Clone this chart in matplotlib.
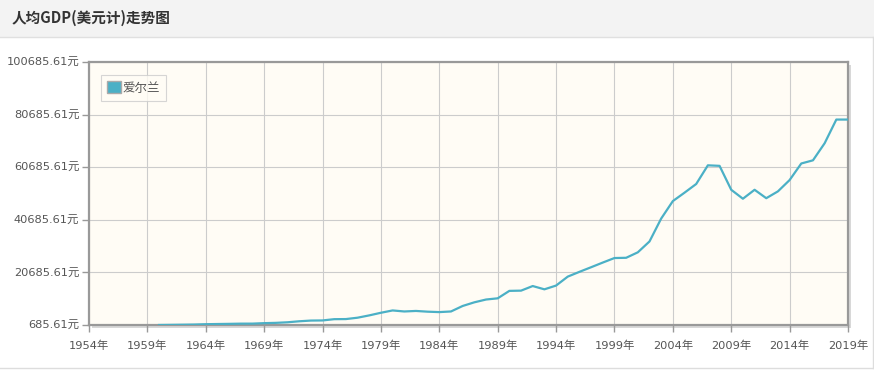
import matplotlib.pyplot as plt
from matplotlib.patches import Rectangle, Patch

plt.rcParams['font.family'] = ['DejaVu Sans', 'Noto Sans CJK SC']

# --- data ---
years = list(range(1960, 2020))
gdp_pc = [
    686, 740, 800, 860, 990, 1060, 1120, 1200, 1210, 1390,
    1500, 1720, 2100, 2370, 2420, 2900, 2940, 3460, 4340, 5340,
    6220, 5830, 6030, 5750, 5590, 5830, 7920, 9310, 10370, 10830,
    13660, 13750, 15500, 14250, 15680, 19080, 20900, 22650, 24430, 26150,
    26240, 28320, 32450, 41150, 47800, 51000, 54300, 61400, 61200, 52100,
    48700, 52100, 48900, 51500, 55800, 62100, 63300, 69800, 78800, 78800,
]
series_name = "爱尔兰"
title = "人均GDP(美元计)走势图"
y_ticks = [685.61 + 20000 * i for i in range(6)]
x_ticks = list(range(1954, 2020, 5))

W, H = 874, 376
fig = plt.figure(figsize=(W / 100, H / 100), dpi=100)
fig.patch.set_facecolor('white')

# header strip + panel frame
fig.add_artist(Rectangle((0, 1 - 37 / H), 1, 37 / H, transform=fig.transFigure,
                         facecolor='#f3f3f3', edgecolor='none', zorder=0))
fig.add_artist(plt.Line2D([0, 1], [1 - 37 / H] * 2, transform=fig.transFigure,
                          color='#e0e0e0', lw=1))
fig.add_artist(plt.Line2D([872.5 / W] * 2, [(376 - 368) / H, 1 - 37 / H],
                          transform=fig.transFigure, color='#dddddd', lw=1))
fig.add_artist(plt.Line2D([0, 872.5 / W], [(376 - 368) / H] * 2,
                          transform=fig.transFigure, color='#dddddd', lw=1))
fig.text(12 / W, 1 - 18 / H, title, fontsize=10.5, fontweight='bold', color='#333333',
         va='center', ha='left', family=['Noto Sans CJK SC'])

left, right, top, bottom = 89, 848, 62, 325
ax = fig.add_axes([left / W, (H - bottom) / H, (right - left) / W, (bottom - top) / H])

# drop shadow of the plot frame
fig.add_artist(Rectangle(((left + 3) / W, (H - bottom - 3) / H), (right - left) / W,
                         (bottom - top) / H, transform=fig.transFigure,
                         facecolor='#d8d8d8', edgecolor='none', zorder=0))

ax.set_facecolor('#fffcf5')
ax.plot(years, gdp_pc, color='#4bb0c6', lw=1.6, label=series_name, zorder=3)

ax.set_xlim(1954, 2019)
ax.set_ylim(685.61, 100685.61)
ax.set_xticks(x_ticks)
ax.set_xticklabels([f"{y}年" for y in x_ticks])
ax.set_yticks(y_ticks)
ax.set_yticklabels([f"{v:.2f}元" for v in y_ticks])
ax.tick_params(axis='both', colors='#999999', labelcolor='#555555', labelsize=8.2,
               length=5, width=1)
ax.tick_params(axis='x', pad=6)
ax.tick_params(axis='y', pad=2)
ax.grid(True, color='#cccccc', lw=0.8)
for s in ax.spines.values():
    s.set_color('#999999')
    s.set_linewidth(1.6)

handle = Patch(facecolor='#4bb0c6', edgecolor='#aaaaaa', label=series_name)
leg = ax.legend(handles=[handle], loc='upper left', bbox_to_anchor=(0.016, 0.95),
                borderaxespad=0, fontsize=9, fancybox=False, handlelength=1.1,
                handleheight=1.1, handletextpad=0.1, borderpad=0.5)
leg.get_frame().set_edgecolor('#cccccc')
leg.get_frame().set_linewidth(0.8)
leg.get_frame().set_facecolor('#fffcf5')
for t in leg.get_texts():
    t.set_color('#555555')

fig.savefig('out.png', dpi=100)
